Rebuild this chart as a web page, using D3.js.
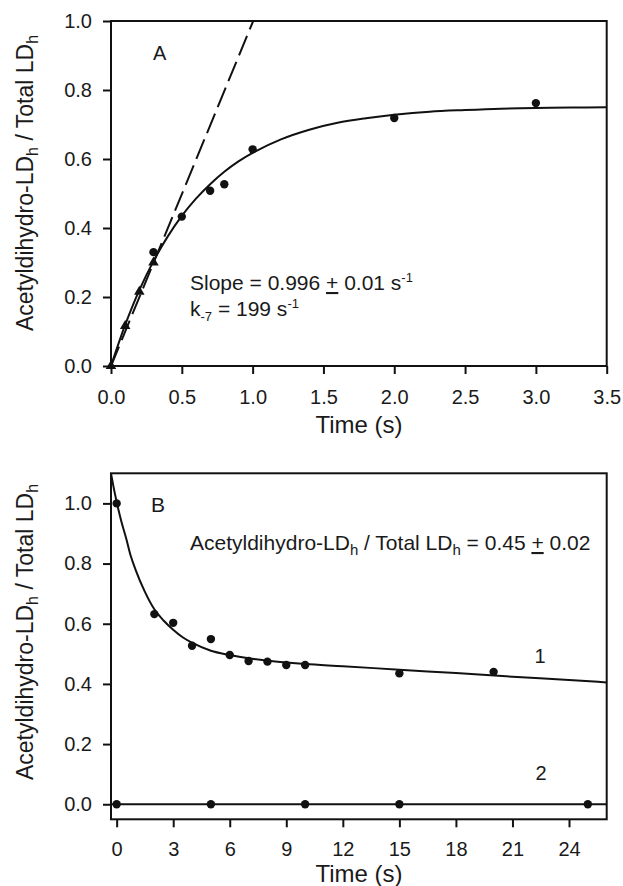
<!DOCTYPE html>
<html>
<head>
<meta charset="utf-8">
<script src="https://cdn.jsdelivr.net/npm/d3@7"></script>
<style>
  body { margin: 0; background: #fff; }
  text { font-family: "Liberation Sans", Arial, sans-serif; fill: #1a1a1a; }
  .domain { display: none; }
</style>
</head>
<body>
<div id="my_dataviz"></div>
<script>
// panel A data
var timeA_dots = [0.3, 0.5, 0.7, 0.8, 1.0, 2.0, 3.0];
var valA_dots = [0.33, 0.433, 0.508, 0.527, 0.628, 0.719, 0.762];
var timeA_tri = [0, 0.1, 0.2, 0.3];
var valA_tri = [0, 0.116, 0.215, 0.3];
var fitA_time = [0, 0.1, 0.2, 0.3, 0.4, 0.5, 0.6, 0.7, 0.8, 0.9, 1.0, 1.2, 1.4, 1.6, 1.8, 2.0, 2.25, 2.5, 2.75, 3.0, 3.25, 3.5];
var fitA_val = [0, 0.119, 0.22, 0.304, 0.375, 0.435, 0.485, 0.527, 0.563, 0.593, 0.618, 0.657, 0.685, 0.705, 0.718, 0.728, 0.737, 0.742, 0.746, 0.748, 0.749, 0.75];
var slopeA_time = [0, 1.004];
var slopeA_val = [0, 1.0];
var ticksAx = [0, 0.5, 1.0, 1.5, 2.0, 2.5, 3.0, 3.5];
var ticksAy = [0, 0.2, 0.4, 0.6, 0.8, 1.0];

// panel B data
var timeB1 = [0, 2, 3, 4, 5, 6, 7, 8, 9, 10, 15, 20];
var valB1 = [1.0, 0.632, 0.603, 0.527, 0.549, 0.496, 0.476, 0.474, 0.463, 0.463, 0.435, 0.44];
var timeB2 = [0, 5, 10, 15, 25];
var valB2 = [0, 0, 0, 0, 0];
var fitB1_time = [-0.3, -0.15, 0, 0.25, 0.5, 0.75, 1.0, 1.5, 2.0, 2.5, 3.0, 3.5, 4.0, 5.0, 6.0, 7.0, 8.0, 9.0, 10, 12, 15, 18, 21, 24, 26];
var fitB1_val = [1.1, 1.05, 1.005, 0.94, 0.885, 0.825, 0.78, 0.706, 0.648, 0.61, 0.58, 0.555, 0.537, 0.51, 0.496, 0.485, 0.477, 0.471, 0.466, 0.459, 0.447, 0.436, 0.424, 0.413, 0.405];
var fitB2_time = [-0.3, 26];
var fitB2_val = [0, 0];
var ticksBx = [0, 3, 6, 9, 12, 15, 18, 21, 24];
var ticksBy = [0, 0.2, 0.4, 0.6, 0.8, 1.0];

function zip(xs, ys) {
  return xs.map(function (d, i) { return [d, ys[i]]; });
}

var svg = d3
  .select("#my_dataviz")
  .append("svg")
  .attr("id", "svg")
  .attr("width", 623)
  .attr("height", 886);

function buildPanel(cfg) {
  var width = cfg.width, height = cfg.height;
  var g = svg.append("g")
    .attr("transform", "translate(" + cfg.left + "," + cfg.top + ")");

  var x = d3.scaleLinear().domain(cfg.xDomain).range([0, width]);
  var y = d3.scaleLinear().domain(cfg.yDomain).range([height, 0]);

  g.append("clipPath").attr("id", cfg.id + "clip")
    .append("rect").attr("width", width).attr("height", height);

  // X axis
  var xa = g.append("g")
    .attr("transform", "translate(0," + height + ")")
    .call(d3.axisBottom(x).tickValues(cfg.xTicks).tickFormat(cfg.xFormat)
      .tickSizeInner(8).tickSizeOuter(0).tickPadding(cfg.xPad));
  xa.selectAll(".tick line").attr("stroke", "#111").attr("stroke-width", 2);
  xa.selectAll("text").style("font-size", "20px").attr("fill", "#1a1a1a");

  // Y axis
  var ya = g.append("g")
    .call(d3.axisLeft(y).tickValues(cfg.yTicks).tickFormat(d3.format(".1f"))
      .tickSizeInner(8).tickSizeOuter(0).tickPadding(11));
  ya.selectAll(".tick line").attr("stroke", "#111").attr("stroke-width", 2);
  ya.selectAll("text").style("font-size", "20px").attr("fill", "#1a1a1a");

  // frame
  g.append("rect")
    .attr("width", width).attr("height", height)
    .attr("fill", "none").attr("stroke", "#111").attr("stroke-width", 2);

  var line = d3.line()
    .x(function (d) { return x(d[0]); })
    .y(function (d) { return y(d[1]); });

  var plot = g.append("g").attr("clip-path", "url(#" + cfg.id + "clip)");

  cfg.lines.forEach(function (l) {
    plot.append("path")
      .datum(l.data)
      .attr("d", line.curve(l.curve || d3.curveLinear))
      .attr("fill", "none")
      .attr("stroke", "#111")
      .attr("stroke-width", 2)
      .attr("stroke-dasharray", l.dash || null);
  });

  cfg.points.forEach(function (p) {
    if (p.shape == "triangle") {
      g.selectAll(null).data(p.data).enter().append("path")
        .attr("d", d3.symbol().type(d3.symbolTriangle).size(48))
        .attr("transform", function (d) {
          return "translate(" + x(d[0]) + "," + y(d[1]) + ")";
        })
        .attr("fill", "#111");
    } else {
      g.selectAll(null).data(p.data).enter().append("circle")
        .attr("cx", function (d) { return x(d[0]); })
        .attr("cy", function (d) { return y(d[1]); })
        .attr("r", 4.2)
        .attr("fill", "#111");
    }
  });
  return g;
}

// subscript / superscript helper
function addRich(textSel, parts) {
  parts.forEach(function (p) {
    var t = textSel.append("tspan").text(p.t);
    if (p.sub) t.attr("dy", p.dy).style("font-size", p.fs);
    if (p.back) t.attr("dy", p.back);
    if (p.ul) t.style("text-decoration", "underline");
  });
}

function yTitle(cx, cy) {
  var t = svg.append("text")
    .attr("transform", "translate(" + cx + "," + cy + ") rotate(-90)")
    .attr("text-anchor", "middle")
    .style("font-size", "23px");
  addRich(t, [
    { t: "Acetyldihydro-LD" },
    { t: "h", sub: true, dy: 5, fs: "16px" },
    { t: " / Total LD", back: -5 },
    { t: "h", sub: true, dy: 5, fs: "16px" }
  ]);
}

// panel A
var gA = buildPanel({
  id: "A", left: 111, top: 21, width: 495.7, height: 345,
  xDomain: [0, 3.5], yDomain: [0, 1.0],
  xTicks: ticksAx, yTicks: ticksAy, xFormat: d3.format(".1f"), xPad: 16,
  lines: [
    { data: zip(fitA_time, fitA_val), curve: d3.curveCatmullRom },
    { data: zip(slopeA_time, slopeA_val), dash: "21,7" }
  ],
  points: [
    { data: zip(timeA_dots, valA_dots) },
    { shape: "triangle", data: zip(timeA_tri, valA_tri) }
  ]
});

svg.append("text").attr("x", 153).attr("y", 60).style("font-size", "20px").text("A");

var s1 = svg.append("text").attr("x", 190).attr("y", 290).style("font-size", "21px");
addRich(s1, [
  { t: "Slope = 0.996 " },
  { t: "+", ul: true },
  { t: " 0.01 s" },
  { t: "-1", sub: true, dy: -8, fs: "13px" }
]);
var s2 = svg.append("text").attr("x", 190).attr("y", 316).style("font-size", "21px");
addRich(s2, [
  { t: "k" },
  { t: "-7", sub: true, dy: 5, fs: "13px" },
  { t: " = 199 s", back: -5 },
  { t: "-1", sub: true, dy: -8, fs: "13px" }
]);

yTitle(33, 183);
svg.append("text").attr("x", 359).attr("y", 433).attr("text-anchor", "middle")
  .style("font-size", "24px").text("Time (s)");

// panel B
var gB = buildPanel({
  id: "B", left: 111, top: 473.3, width: 495.7, height: 346,
  xDomain: [-0.3, 26], yDomain: [-0.05, 1.1],
  xTicks: ticksBx, yTicks: ticksBy, xFormat: d3.format("d"), xPad: 15,
  lines: [
    { data: zip(fitB1_time, fitB1_val), curve: d3.curveMonotoneX },
    { data: zip(fitB2_time, fitB2_val) }
  ],
  points: [
    { data: zip(timeB1, valB1) },
    { data: zip(timeB2, valB2) }
  ]
});

svg.append("text").attr("x", 151).attr("y", 512).style("font-size", "21px").text("B");

var s3 = svg.append("text").attr("x", 190).attr("y", 550).style("font-size", "21px");
addRich(s3, [
  { t: "Acetyldihydro-LD" },
  { t: "h", sub: true, dy: 5, fs: "15px" },
  { t: " / Total LD", back: -5 },
  { t: "h", sub: true, dy: 5, fs: "15px" },
  { t: " = 0.45 ", back: -5 },
  { t: "+", ul: true },
  { t: " 0.02" }
]);

svg.append("text").attr("x", 540).attr("y", 663).attr("text-anchor", "middle")
  .style("font-size", "20px").text("1");
svg.append("text").attr("x", 541).attr("y", 780).attr("text-anchor", "middle")
  .style("font-size", "20px").text("2");

yTitle(33, 632);
svg.append("text").attr("x", 359).attr("y", 882).attr("text-anchor", "middle")
  .style("font-size", "24px").text("Time (s)");
</script>
</body>
</html>
